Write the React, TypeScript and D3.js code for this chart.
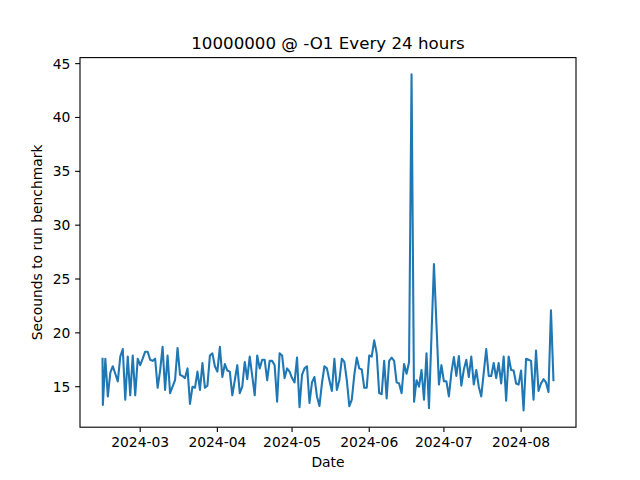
import React from "react";
import * as d3 from "d3";

// Benchmark run times (seconds), one run every 24 hours from 2024-02-15 to 2024-08-14,
// preceded by an extra first run a few hours earlier.
const firstRunValue = 17.6;
const dailyValues = [
  13.3, 17.6, 14.1, 16.3, 16.9, 16.2, 15.5, 17.8, 18.5, 13.8,
  17.8, 14.2, 17.9, 14.2, 17.6, 17.0, 17.6, 18.25, 18.25, 17.5,
  17.4, 17.6, 14.9, 16.5, 18.7, 14.7, 17.9, 14.4, 15.0, 15.6,
  18.6, 16.1, 16.0, 15.8, 16.7, 13.4, 15.0, 14.9, 16.4, 14.7,
  17.2, 14.9, 15.1, 17.9, 18.1, 16.9, 16.4, 18.7, 15.9, 17.1,
  16.5, 16.4, 14.2, 15.6, 17.0, 14.4, 15.0, 17.3, 15.7, 17.8,
  16.0, 14.2, 17.9, 16.7, 17.5, 17.5, 15.6, 17.4, 17.4, 17.0,
  13.6, 18.1, 17.9, 15.8, 16.7, 16.4, 15.8, 15.4, 17.7, 13.1,
  16.1, 16.7, 16.9, 13.5, 15.4, 15.9, 14.1, 13.2, 15.3, 16.9,
  16.7, 15.6, 14.6, 17.6, 14.7, 15.6, 17.6, 17.3, 15.6, 13.2,
  13.8, 16.1, 17.7, 16.7, 16.6, 14.9, 14.9, 17.9, 17.8, 19.3,
  18.1, 14.4, 14.3, 17.4, 13.9, 17.4, 17.7, 17.4, 15.4, 15.3,
  14.4, 17.1, 16.2, 17.3, 44.0, 13.6, 15.6, 15.0, 16.55, 13.8,
  18.1, 13.0, 19.7, 26.4, 20.8, 15.2, 17.0, 15.5, 15.5, 14.1,
  16.3, 17.75, 16.0, 17.85, 15.1, 16.6, 17.5, 15.9, 17.8, 15.2,
  16.55, 15.0, 14.1, 16.3, 18.5, 16.0, 16.0, 17.2, 15.8, 17.2,
  15.3, 17.8, 13.7, 17.8, 16.55, 16.5, 15.3, 15.2, 16.5, 12.8,
  17.6, 17.5, 17.4, 13.8, 18.35, 14.6, 15.3, 15.7, 15.4, 14.5,
  22.1, 15.6,
];
const yTicks = [15, 20, 25, 30, 35, 40, 45];
const xTickDates = ["2024-03-01", "2024-04-01", "2024-05-01", "2024-06-01", "2024-07-01", "2024-08-01"];
const titleText = "10000000 @ -O1 Every 24 hours";
const xLabelText = "Date";
const yLabelText = "Secounds to run benchmark";

const firstDay = new Date(2024, 1, 15);
const runDates = [
  d3.timeHour.offset(firstDay, -3),
  ...dailyValues.map((_, i) => d3.timeDay.offset(firstDay, i)),
];
const runValues = [firstRunValue, ...dailyValues];
const data = runDates.map((d, i) => ({ date: d, value: runValues[i] }));

const W = 640;
const H = 480;
const left = 80;
const right = 576;
const top = 57.6;
const bottom = 427.2;
const FONT = "DejaVu Sans, sans-serif";
const COLOR = "#1f77b4";

function padDomain([a, b]: [number, number]): [number, number] {
  const m = (b - a) * 0.05;
  return [a - m, b + m];
}

export default function App() {
  const tExt = d3.extent(data, (d) => +d.date) as [number, number];
  const vExt = d3.extent(data, (d) => d.value) as [number, number];
  const x = d3.scaleTime().domain(padDomain(tExt).map((t) => new Date(t))).range([left, right]);
  const y = d3.scaleLinear().domain(padDomain(vExt)).range([bottom, top]);
  const line = d3
    .line<{ date: Date; value: number }>()
    .x((d) => x(d.date))
    .y((d) => y(d.value));
  const fmt = d3.timeFormat("%Y-%m");
  const parse = d3.timeParse("%Y-%m-%d");

  return (
    <svg width={W} height={H} style={{ display: "block", position: "absolute", left: 0, top: 0 }} fontFamily={FONT}>
      <rect width={W} height={H} fill="#fff" />
      <path d={line(data) || ""} fill="none" stroke={COLOR} strokeWidth={2.08} strokeLinejoin="round" strokeLinecap="square" />
      <rect x={left} y={top} width={right - left} height={bottom - top} fill="none" stroke="#000" strokeWidth={1.1} />
      {yTicks.map((t) => (
        <g key={t}>
          <line x1={left - 4.86} x2={left} y1={y(t)} y2={y(t)} stroke="#000" strokeWidth={1.1} />
          <text x={left - 9.7} y={y(t)} dy="0.36em" textAnchor="end" fontSize={13.89} fill="#000">
            {t}
          </text>
        </g>
      ))}
      {xTickDates.map((s) => {
        const d = parse(s) as Date;
        const px = x(d);
        return (
          <g key={s}>
            <line x1={px} x2={px} y1={bottom} y2={bottom + 4.86} stroke="#000" strokeWidth={1.1} />
            <text x={px} y={447} textAnchor="middle" fontSize={13.89} fill="#000">
              {fmt(d)}
            </text>
          </g>
        );
      })}
      <text x={(left + right) / 2} y={49} textAnchor="middle" fontSize={16.67} fill="#000">
        {titleText}
      </text>
      <text x={(left + right) / 2} y={467} textAnchor="middle" fontSize={13.89} fill="#000">
        {xLabelText}
      </text>
      <text
        transform={`translate(42, ${(top + bottom) / 2}) rotate(-90)`}
        textAnchor="middle"
        fontSize={13.89}
        fill="#000"
      >
        {yLabelText}
      </text>
    </svg>
  );
}
